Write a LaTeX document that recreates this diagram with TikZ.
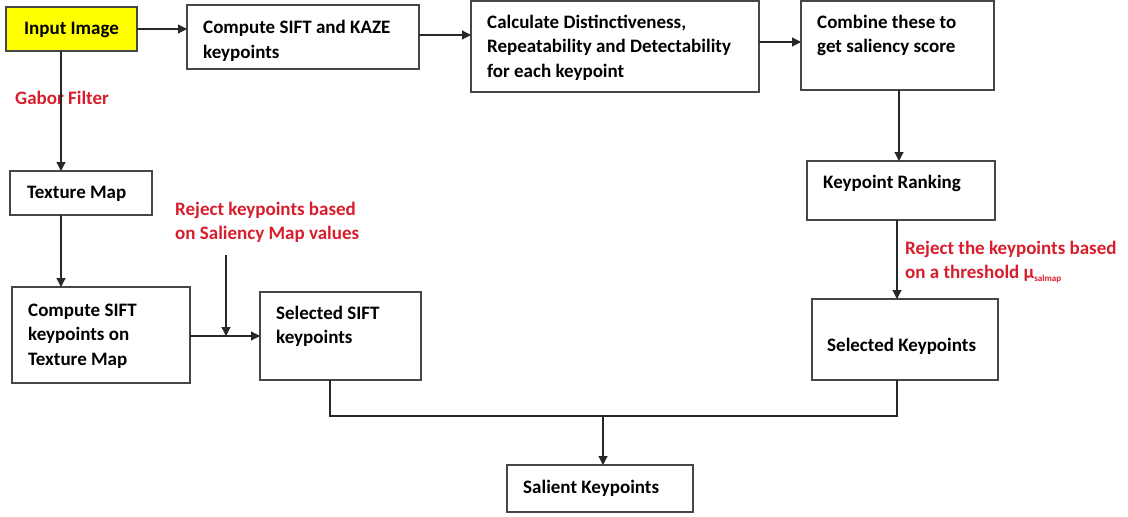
\documentclass[tikz,border=0pt]{standalone}
\usepackage{fontspec}
\setmainfont{Carlito}
\usetikzlibrary{arrows.meta,calc,fit}
\definecolor{boxline}{RGB}{70,70,70}
\definecolor{lblred}{RGB}{215,30,45}
\definecolor{inyellow}{RGB}{255,255,0}
\definecolor{conn}{RGB}{40,40,40}
\newcommand{\ft}{\fontsize{19}{24.5}\selectfont\bfseries}
\begin{document}
\begin{tikzpicture}[x=1pt,y=-1pt,
  box/.style={draw=boxline, line width=1.4pt, inner sep=0pt, outer sep=0pt},
  txt/.style={anchor=north west, inner sep=0pt, align=left, font=\ft},
  redlabel/.style={txt, text=lblred},
  arr/.style={draw=conn, line width=1.2pt, -{Triangle[width=9pt,length=9pt]}},
  ln/.style={draw=conn, line width=1.2pt}]
\useasboundingbox[fill=white] (0,0) rectangle (1128,517);
% boxes
\node[box, fill=inyellow, fit={(6,7) (137,51)}, font=\ft] (in) {};
\node[font=\ft, inner sep=0pt, anchor=base] (in-t) at (71.5,34) {Input Image};
\node[box, fit={(187,5) (419,69)}] (cs) {};
\node[box, fit={(471,1) (759,92)}] (calc) {};
\node[box, fit={(801,1) (994,90)}] (comb) {};
\node[box, fit={(807,161) (995,220)}] (kr) {};
\node[box, fit={(812,299) (998,380)}] (sk) {};
\node[box, fit={(10,171) (152,215)}] (tm) {};
\node[box, fit={(12,287) (190,383)}] (ct) {};
\node[box, fit={(260,292) (421,380)}] (ss) {};
\node[box, fit={(507,465) (693,512)}] (sal) {};
% texts
\node[txt] (cs-t) at (203,16.35) {\strut Compute SIFT and KAZE\\\strut keypoints};
\node[txt] (calc-t) at (487,10.85) {\strut Calculate Distinctiveness,\\\strut Repeatability and Detectability\\\strut for each keypoint};
\node[txt] (comb-t) at (817,10.85) {\strut Combine these to\\\strut get saliency score};
\node[txt] (kr-t) at (823,170.85) {\strut Keypoint Ranking};
\node[txt] (sk-t) at (827,333.85) {\strut Selected Keypoints};
\node[txt] (tm-t) at (27,180.85) {\strut Texture Map};
\node[txt] (ct-t) at (28,298.85) {\strut Compute SIFT\\\strut keypoints on\\\strut Texture Map};
\node[txt] (ss-t) at (276,301.85) {\strut Selected SIFT\\\strut keypoints};
\node[txt] (sal-t) at (523,475.85) {\strut Salient Keypoints};
% red labels
\node[redlabel] (gab) at (15,86.85) {\strut Gabor Filter};
\node[redlabel] (rl1) at (175,197.85) {\strut Reject keypoints based\\\strut on Saliency Map values};
\node[redlabel] (rl2) at (905,236.85) {\strut Reject the keypoints based\\\strut on a threshold μ\raisebox{-3pt}{\fontsize{9}{9}\selectfont salmap}};
% connectors
\draw[arr] (in.east) -- (in.east -| cs.west);
\draw[arr] ([yshift=2pt]cs.east) -- ([yshift=2pt]cs.east -| calc.west);
\draw[arr] ([yshift=4.5pt]calc.east) -- ([yshift=4.5pt]calc.east -| comb.west);
\draw[arr] ([xshift=1.5pt]comb.south) -- ([xshift=1.5pt]comb.south |- kr.north);
\draw[arr] ([xshift=-4pt]kr.south) -- ([xshift=-4pt]kr.south |- sk.north);
\draw[arr] ([xshift=-10.5pt]in.south) -- ([xshift=-10.5pt]in.south |- tm.north);
\draw[arr] ([xshift=-20pt]tm.south) -- ([xshift=-20pt]tm.south |- ct.north);
\draw[arr] ([yshift=-1pt]ct.east) -- ([yshift=-1pt]ct.east -| ss.west);
\coordinate (j1) at (226,336);
\draw[arr] ($(rl1.south -| j1)+(0,8)$) -- (j1);
\coordinate (jl) at (330,416);
\coordinate (jr) at (897,416);
\coordinate (jm) at (603,416);
\draw[ln] (ss.south -| jl) -- (jl) -- (jr) -- (sk.south -| jr);
\draw[arr] (jm) -- (jm |- sal.north);
\end{tikzpicture}
\end{document}
